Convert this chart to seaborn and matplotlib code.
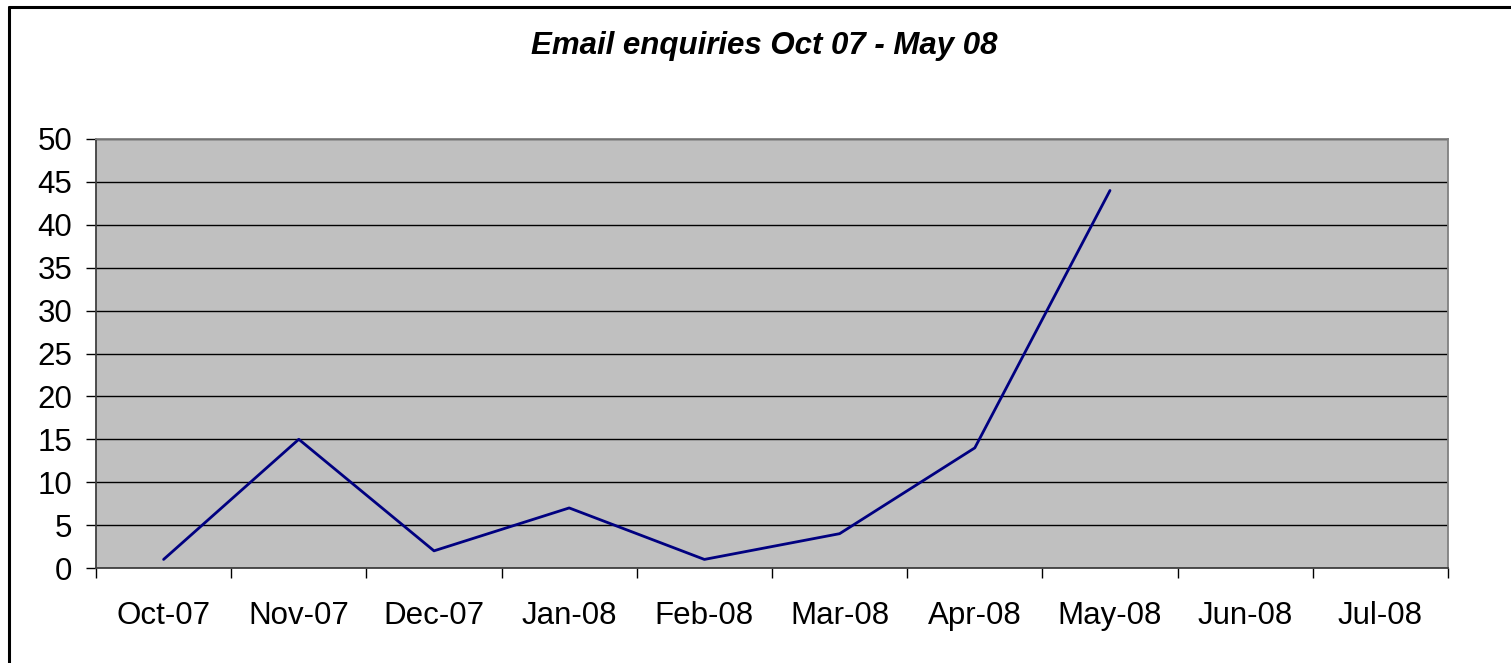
import numpy as np
import pandas as pd
import matplotlib
matplotlib.use("Agg")
import matplotlib.pyplot as plt
import seaborn as sns
from matplotlib.lines import Line2D

months = ['Oct-07', 'Nov-07', 'Dec-07', 'Jan-08', 'Feb-08', 'Mar-08', 'Apr-08', 'May-08', 'Jun-08', 'Jul-08']
enquiries = [1, 15, 2, 7, 1, 4, 14, 44, np.nan, np.nan]
yticks = [0, 5, 10, 15, 20, 25, 30, 35, 40, 45, 50]
title = 'Email enquiries Oct 07 - May 08'

sns.set_style("white", {'xtick.bottom': True, 'ytick.left': True,
                        'text.color': 'black', 'xtick.color': 'black', 'ytick.color': 'black'})
plt.rcParams['font.family'] = ['Liberation Sans', 'DejaVu Sans']

df = pd.DataFrame({'pos': np.arange(len(months)), 'month': months, 'count': enquiries})

fig = plt.figure(figsize=(15.11, 6.63), dpi=100)
ax = fig.add_axes([96/1511, 1 - 568/663, (1448 - 96)/1511, (568 - 139)/663])
ax.set_facecolor('#C0C0C0')

sns.lineplot(data=df.dropna(), x='pos', y='count', ax=ax, color='#000080', linewidth=2.0)

ax.set_xlim(-0.5, len(months) - 0.5)
ax.set_ylim(0, 50)
ax.set_yticks(yticks)
ax.yaxis.grid(True, color='black', linewidth=1.0)
ax.set_axisbelow(True)

ax.set_xticks(df['pos'], months)
ax.set_xticks(np.arange(len(months) + 1) - 0.5, minor=True)
ax.tick_params(axis='x', which='major', length=0, pad=24, labelsize=22.5, labelcolor='black')
ax.tick_params(axis='x', which='minor', bottom=True, length=7, width=1, color='black', direction='out')
ax.tick_params(axis='y', left=True, length=7, width=1, color='black', direction='out', pad=10,
               labelsize=22.5, labelcolor='black')
ax.set_xlabel('')
ax.set_ylabel('')

for side in ['top', 'right']:
    ax.spines[side].set_color('#808080')
    ax.spines[side].set_linewidth(1.3)
for side in ['left', 'bottom']:
    ax.spines[side].set_color('#404040')
    ax.spines[side].set_linewidth(1.3)

fig.text(0.506, 1 - 46/663, title, ha='center', va='center', fontsize=22.5,
         fontweight='bold', fontstyle='italic', color='black')

# chart area border (only left and top are visible in the crop)
fig.add_artist(Line2D([9/1511, 9/1511], [0, 1 - 7/663], transform=fig.transFigure, color='black', linewidth=2.2))
fig.add_artist(Line2D([9/1511, 1], [1 - 7/663, 1 - 7/663], transform=fig.transFigure, color='black', linewidth=2.2))

fig.savefig('out.png', dpi=100, facecolor='white')
